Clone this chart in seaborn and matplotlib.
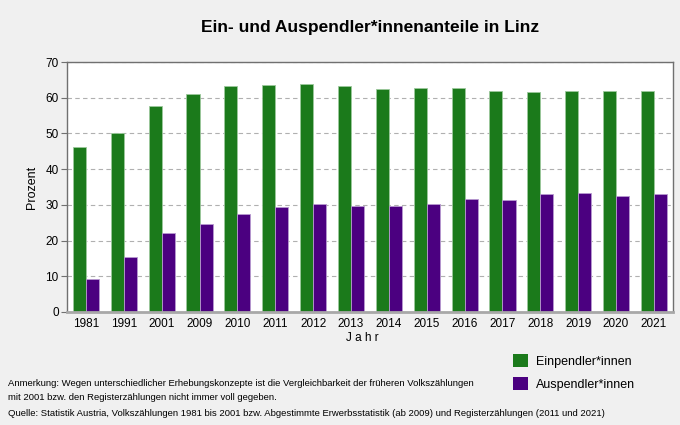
import matplotlib
matplotlib.use("Agg")
import matplotlib.pyplot as plt
import seaborn as sns
import pandas as pd
from matplotlib.patches import Patch

years = ["1981", "1991", "2001", "2009", "2010", "2011", "2012", "2013",
         "2014", "2015", "2016", "2017", "2018", "2019", "2020", "2021"]
einpendler = [46.2, 50.0, 57.8, 61.1, 63.2, 63.5, 63.9, 63.2,
              62.4, 62.6, 62.7, 61.9, 61.7, 61.9, 62.0, 61.9]
auspendler = [9.3, 15.3, 22.2, 24.5, 27.4, 29.4, 30.2, 29.8,
              29.8, 30.2, 31.5, 31.3, 32.9, 33.2, 32.6, 33.1]
series = ["Einpendler*innen", "Auspendler*innen"]
colors = ["#1b7a1b", "#4b0080"]
edge_colors = ["#9cc89c", "#b89ad0"]

df = pd.DataFrame({
    "Jahr": years * 2,
    "Wert": einpendler + auspendler,
    "Serie": [series[0]] * len(years) + [series[1]] * len(years),
})

sns.set_theme(style="white")
plt.rcParams["font.family"] = ["Liberation Sans", "DejaVu Sans"]
plt.rcParams["text.color"] = "black"
plt.rcParams["axes.labelcolor"] = "black"
plt.rcParams["xtick.color"] = "black"
plt.rcParams["ytick.color"] = "black"

fig = plt.figure(figsize=(6.8, 4.25), dpi=100, facecolor="#f0f0f0")
ax = fig.add_axes([0.0985, 0.266, 0.891, 0.588])
ax.set_facecolor("white")

sns.barplot(data=df, x="Jahr", y="Wert", hue="Serie", palette=colors,
            width=0.69, ax=ax, legend=False, saturation=1, linewidth=0.6)
for cont, ec in zip(ax.containers, edge_colors):
    for p in cont:
        p.set_edgecolor(ec)

ax.set_ylim(0, 70)
ax.set_yticks(range(0, 71, 10))
ax.set_xlim(-0.5, len(years) - 0.5)
ax.yaxis.grid(True, linestyle=(0, (4, 3)), color="#b0b0b0", linewidth=0.8)
ax.set_axisbelow(True)
for s in ["left", "top", "right"]:
    ax.spines[s].set_color("#707070")
    ax.spines[s].set_linewidth(1.0)
ax.spines["bottom"].set_color("#a8a8a8")
ax.spines["bottom"].set_linewidth(2.0)
ax.tick_params(axis="y", left=True, length=4, width=0.8, color="#707070",
               labelcolor="black", labelsize=8.5, pad=2)
ax.tick_params(axis="x", bottom=False, length=0, labelcolor="black",
               labelsize=8.5, pad=4)
ax.set_xlabel("J a h r", fontsize=8.5, color="black", va="center")
ax.xaxis.set_label_coords(0.488, -0.106)
ax.set_ylabel("Prozent", fontsize=9, labelpad=5, color="black")

fig.text(0.544, 0.935, "Ein- und Auspendler*innenanteile in Linz",
         ha="center", va="center", fontsize=12.5, fontweight="bold",
         color="black")

handles = [Patch(facecolor=c, edgecolor="none") for c in colors]
leg = fig.legend(handles, series, loc="upper left", bbox_to_anchor=(0.755, 0.166),
                 frameon=False, fontsize=9, handlelength=1.2, handleheight=1.2,
                 handletextpad=0.6, labelspacing=0.75, borderaxespad=0,
                 borderpad=0)
for t in leg.get_texts():
    t.set_color("black")

note_fs = 6.8
fig.text(0.012, 1 - 383 / 425, "Anmerkung: Wegen unterschiedlicher Erhebungskonzepte ist die Vergleichbarkeit der früheren Volkszählungen",
         fontsize=note_fs, va="center", ha="left", color="black")
fig.text(0.012, 1 - 397 / 425, "mit 2001 bzw. den Registerzählungen nicht immer voll gegeben.",
         fontsize=note_fs, va="center", ha="left", color="black")
fig.text(0.012, 1 - 413 / 425, "Quelle: Statistik Austria, Volkszählungen 1981 bis 2001 bzw. Abgestimmte Erwerbsstatistik (ab 2009) und Registerzählungen (2011 und 2021)",
         fontsize=note_fs, va="center", ha="left", color="black")

fig.savefig("out.png", dpi=100, facecolor=fig.get_facecolor())
